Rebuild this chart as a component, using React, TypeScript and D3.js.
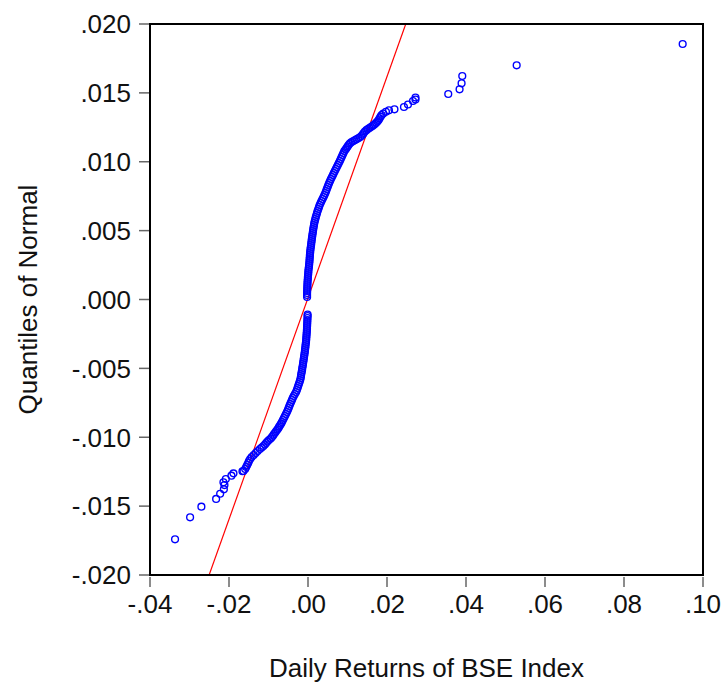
import React from "react";
import * as d3 from "d3";

// Daily returns of the BSE index (x) and the matching normal quantiles (y), sorted by quantile
const returns = [
  -0.03366, -0.02985, -0.02699, -0.02326, -0.02224, -0.0213, -0.02115, -0.02141, -0.0208, -0.01938, -0.01887, -0.01659,
  -0.016333, -0.015902, -0.015648, -0.015395, -0.015141, -0.014938, -0.014634, -0.014253, -0.013746, -0.013239,
  -0.012732, -0.012174, -0.011717, -0.011286, -0.010906, -0.010601, -0.010272, -0.009891, -0.009435, -0.00913,
  -0.008826, -0.008598, -0.008293, -0.00804, -0.007735, -0.007482, -0.007279, -0.007025, -0.006797, -0.006594,
  -0.006341, -0.006087, -0.005833, -0.00558, -0.005326, -0.005098, -0.004895, -0.004717, -0.004514, -0.004286,
  -0.004058, -0.003855, -0.003601, -0.003322, -0.003018, -0.002815, -0.002638, -0.002485, -0.002308, -0.00213,
  -0.001978, -0.001851, -0.001775, -0.001699, -0.001598, -0.001496, -0.001446, -0.001344, -0.001268, -0.001192,
  -0.001116, -0.00104, -0.000964, -0.000888, -0.000812, -0.000761, -0.000685, -0.000634, -0.000583, -0.000507,
  -0.000457, -0.000431, -0.00038, -0.000355, -0.000304, -0.000279, -0.000254, -0.000228, -0.000203, -0.000178,
  -0.000152, -0.000127, -0.000101, -0.000101,
  -0.000228, -0.000228, -0.000228, -0.000203, -0.000203, -0.000178, -0.000152, -0.000127, -0.000101, -0.000051,
  -0.000025, 0.000025, 0.000076, 0.000101, 0.000152, 0.000228, 0.000279, 0.00033, 0.00038, 0.000406, 0.000457,
  0.000482, 0.000533, 0.000583, 0.000634, 0.00071, 0.000786, 0.000837, 0.000913, 0.000964, 0.00104, 0.001116,
  0.001192, 0.001268, 0.001344, 0.00142, 0.001522, 0.001598, 0.001725, 0.001851, 0.001978, 0.00213, 0.002283,
  0.002435, 0.002612, 0.00279, 0.002967, 0.003196, 0.003424, 0.003677, 0.003931, 0.004159, 0.004388, 0.004591,
  0.004768, 0.004971, 0.005148, 0.005351, 0.00558, 0.005808, 0.006062, 0.006315, 0.006543, 0.006797, 0.007051,
  0.007304, 0.007558, 0.007811, 0.008065, 0.008293, 0.008522, 0.00875, 0.008978, 0.009206, 0.009511, 0.009764,
  0.010018, 0.010272, 0.010576, 0.010931, 0.011362, 0.011819, 0.01225, 0.012706, 0.013138, 0.013518, 0.013848,
  0.014101, 0.014406, 0.014786, 0.015166, 0.015547, 0.015927, 0.016308, 0.016637, 0.016942, 0.017272, 0.017576,
  0.01788, 0.018134, 0.018387, 0.018641, 0.019047,
  0.019732, 0.020493, 0.021887, 0.024297, 0.025311, 0.026579, 0.027213, 0.027213, 0.035507, 0.038373, 0.03888,
  0.039057, 0.052829, 0.094854,
];

const normalQuantiles = [
  -0.01741, -0.01581, -0.01504, -0.01448, -0.0141, -0.01378, -0.01347, -0.01327, -0.01303, -0.01279, -0.01262, -0.01247,
  -0.012451, -0.012306, -0.012161, -0.012015, -0.01187, -0.011725, -0.01158, -0.011435, -0.011289, -0.011144,
  -0.010999, -0.010854, -0.010745, -0.010636, -0.010527, -0.010418, -0.010309, -0.0102, -0.010091, -0.009983,
  -0.009874, -0.009765, -0.009656, -0.009547, -0.009438, -0.009329, -0.00922, -0.009111, -0.009002, -0.008894,
  -0.008748, -0.008603, -0.008458, -0.008313, -0.008168, -0.008022, -0.007877, -0.007732, -0.007587, -0.007442,
  -0.007296, -0.007151, -0.007006, -0.006861, -0.006716, -0.00657, -0.006425, -0.00628, -0.006135, -0.00599,
  -0.005844, -0.005699, -0.005554, -0.005409, -0.005264, -0.005118, -0.004973, -0.004828, -0.004683, -0.004538,
  -0.004392, -0.004247, -0.004102, -0.003957, -0.003812, -0.003666, -0.003521, -0.003376, -0.003231, -0.003086,
  -0.00294, -0.002795, -0.00265, -0.002505, -0.00236, -0.002214, -0.002069, -0.001924, -0.001779, -0.001634,
  -0.001488, -0.001343, -0.001198, -0.001089,
  0.000182, 0.000327, 0.000472, 0.000617, 0.000762, 0.000908, 0.001053, 0.001198, 0.001343, 0.001488, 0.001634,
  0.001779, 0.001924, 0.002069, 0.002214, 0.00236, 0.002505, 0.00265, 0.002795, 0.00294, 0.003086, 0.003231,
  0.003376, 0.003521, 0.003666, 0.003812, 0.003957, 0.004102, 0.004247, 0.004392, 0.004538, 0.004683, 0.004828,
  0.004973, 0.005118, 0.005264, 0.005409, 0.005554, 0.005699, 0.005844, 0.00599, 0.006135, 0.00628, 0.006425,
  0.00657, 0.006716, 0.006861, 0.007006, 0.007151, 0.007296, 0.007442, 0.007587, 0.007732, 0.007877, 0.008022,
  0.008168, 0.008313, 0.008458, 0.008603, 0.008748, 0.008894, 0.009039, 0.009184, 0.009329, 0.009474, 0.00962,
  0.009765, 0.00991, 0.010055, 0.0102, 0.010346, 0.010491, 0.010636, 0.010781, 0.01089, 0.010999, 0.011108,
  0.011217, 0.011326, 0.011413, 0.011485, 0.011558, 0.011631, 0.011703, 0.011776, 0.01187, 0.011979, 0.012088,
  0.012197, 0.012291, 0.012378, 0.012451, 0.012524, 0.012596, 0.012669, 0.012741, 0.012828, 0.012923, 0.013032,
  0.013155, 0.013279, 0.013395, 0.013504,
  0.013627, 0.013736, 0.013809, 0.013976, 0.014157, 0.014411, 0.01452, 0.014665, 0.014919, 0.015261, 0.015696,
  0.016226, 0.017003, 0.018549,
];

// reference line end points (return, quantile)
const refLineX = [-0.02503, 0.02475];
const refLineY = [-0.02, 0.02];

const xTicks = [-0.04, -0.02, 0, 0.02, 0.04, 0.06, 0.08, 0.1];
const yTicks = [-0.02, -0.015, -0.01, -0.005, 0, 0.005, 0.01, 0.015, 0.02];

const xTitle = "Daily Returns of BSE Index";
const yTitle = "Quantiles of Normal";

export default function App() {
  const width = 724;
  const height = 686;
  const margin = { top: 24, right: 21, bottom: 111, left: 150 };
  const x = d3.scaleLinear().domain([-0.04, 0.1]).range([margin.left, width - margin.right]);
  const y = d3.scaleLinear().domain([-0.02, 0.02]).range([height - margin.bottom, margin.top]);
  // eviews style: plain hyphen, no leading zero
  const clean = (s: string) => s.replace("\u2212", "-").replace("0.", ".");
  const fx = (d: number) => clean(d3.format(".2f")(d));
  const fy = (d: number) => clean(d3.format(".3f")(d));
  const font = "'Liberation Sans', Arial, sans-serif";
  const points = returns.map((r, i) => ({ r, q: normalQuantiles[i] }));
  const x0 = margin.left, x1 = width - margin.right, y0 = margin.top, y1 = height - margin.bottom;

  return (
    <svg
      width={width}
      height={height}
      style={{ position: "absolute", left: 0, top: 0, background: "#fff" }}
      fontFamily={font}
    >
      {/* y ticks */}
      {yTicks.map((d) => (
        <g key={"y" + d}>
          <line x1={x0 - 11} x2={x0} y1={y(d)} y2={y(d)} stroke="#666" strokeWidth={1.5} />
          <text x={x0 - 19} y={y(d)} dy="0.36em" textAnchor="end" fontSize={26} fill="#111">
            {fy(d)}
          </text>
        </g>
      ))}
      {/* x ticks */}
      {xTicks.map((d) => (
        <g key={"x" + d}>
          <line x1={x(d)} x2={x(d)} y1={y1 + 2} y2={y1 + 12} stroke="#666" strokeWidth={1.5} />
          <text x={x(d)} y={y1 + 38} textAnchor="middle" fontSize={26} fill="#111">
            {fx(d)}
          </text>
        </g>
      ))}
      <g clipPath="url(#plotClip)">
        <path
          d={d3.line<number>().x((d) => x(d)).y((d, i) => y(refLineY[i]))(refLineX) || ""}
          stroke="#ff0000"
          strokeWidth={1.2}
          fill="none"
        />
        {points.map((p, i) => (
          <circle key={i} cx={x(p.r)} cy={y(p.q)} r={3.4} fill="none" stroke="#0000ff" strokeWidth={1.4} />
        ))}
      </g>
      <defs>
        <clipPath id="plotClip">
          <rect x={x0} y={y0} width={x1 - x0} height={y1 - y0} />
        </clipPath>
      </defs>
      {/* frame */}
      <rect x={x0} y={y0} width={x1 - x0} height={y1 - y0} fill="none" stroke="#000" strokeWidth={2} />
      <text x={(x0 + x1) / 2} y={677} textAnchor="middle" fontSize={26} fill="#111">
        {xTitle}
      </text>
      <text
        transform={`translate(37,${(y0 + y1) / 2}) rotate(-90)`}
        textAnchor="middle"
        fontSize={26}
        fill="#111"
      >
        {yTitle}
      </text>
    </svg>
  );
}
